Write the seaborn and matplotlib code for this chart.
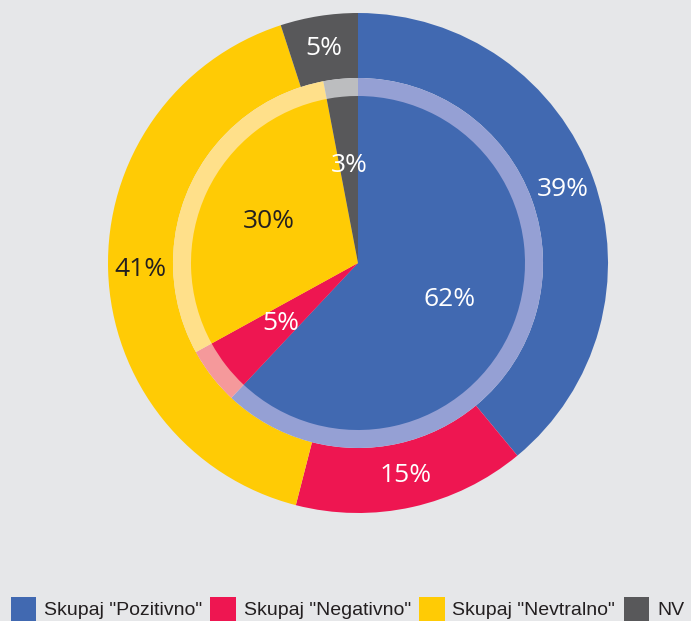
import matplotlib
matplotlib.use("Agg")
import matplotlib.pyplot as plt
import seaborn as sns
import numpy as np
from matplotlib.patches import Patch

categories = ['Skupaj "Pozitivno"', 'Skupaj "Negativno"', 'Skupaj "Nevtralno"', 'NV']
outer_values = [39, 15, 41, 5]
inner_values = [62, 5, 30, 3]
outer_labels = ["39%", "15%", "41%", "5%"]
inner_labels = ["62%", "5%", "30%", "3%"]

colors = ["#4169b1", "#ee1651", "#ffcb05", "#58585a"]
band_colors = ["#95a0d4", "#f5999b", "#ffe08a", "#bcbdbf"]
outer_text = ["white", "white", "#231f20", "white"]
inner_text = ["white", "white", "#231f20", "white"]

sns.set_theme(style="white")
bg = "#e6e7e9"
plt.rcParams["font.family"] = ["Open Sans", "DejaVu Sans"]

W, H = 691, 621
fig = plt.figure(figsize=(W / 100, H / 100), dpi=100, facecolor=bg)
cx, cy, R = 358, 263, 250
ax = fig.add_axes([(cx - R) / W, (H - cy - R) / H, 2 * R / W, 2 * R / H])
ax.set_facecolor(bg)

r_inner = 185 / 250
r_band = 167 / 250

# outer ring
ax.pie(outer_values, colors=colors, radius=1.0, startangle=90, counterclock=False,
       wedgeprops=dict(width=1.0 - r_inner, edgecolor="none"))
# inner pie: light band then solid core
ax.pie(inner_values, colors=band_colors, radius=r_inner, startangle=90, counterclock=False,
       wedgeprops=dict(edgecolor="none"))
ax.pie(inner_values, colors=colors, radius=r_band, startangle=90, counterclock=False,
       wedgeprops=dict(edgecolor="none"))


def put_labels(values, labels, tcolors, dist):
    total = sum(values)
    start = 90.0
    for v, lab, tc in zip(values, labels, tcolors):
        mid = start - v / total * 360 / 2
        ang = np.deg2rad(mid)
        ax.text(dist * np.cos(ang), dist * np.sin(ang), lab, color=tc,
                ha="center", va="center", fontsize=19)
        start -= v / total * 360


put_labels(outer_values, outer_labels, outer_text, 0.87)
put_labels(inner_values, inner_labels, inner_text, 0.393)

ax.set_xlim(-1, 1)
ax.set_ylim(-1, 1)
ax.axis("off")

handles = [Patch(facecolor=c, edgecolor="none") for c in colors]
leg = fig.legend(handles, categories, loc="lower left", bbox_to_anchor=(0.004, -0.012),
                 ncol=4, frameon=False, handlelength=1.3, handleheight=1.5,
                 handletextpad=0.4, columnspacing=0.45, borderaxespad=0,
                 prop={"family": ["Liberation Sans Narrow", "Liberation Sans", "DejaVu Sans"],
                       "size": 14})
for t in leg.get_texts():
    t.set_color("#231f20")

fig.savefig("out.png", dpi=100, facecolor=bg)
